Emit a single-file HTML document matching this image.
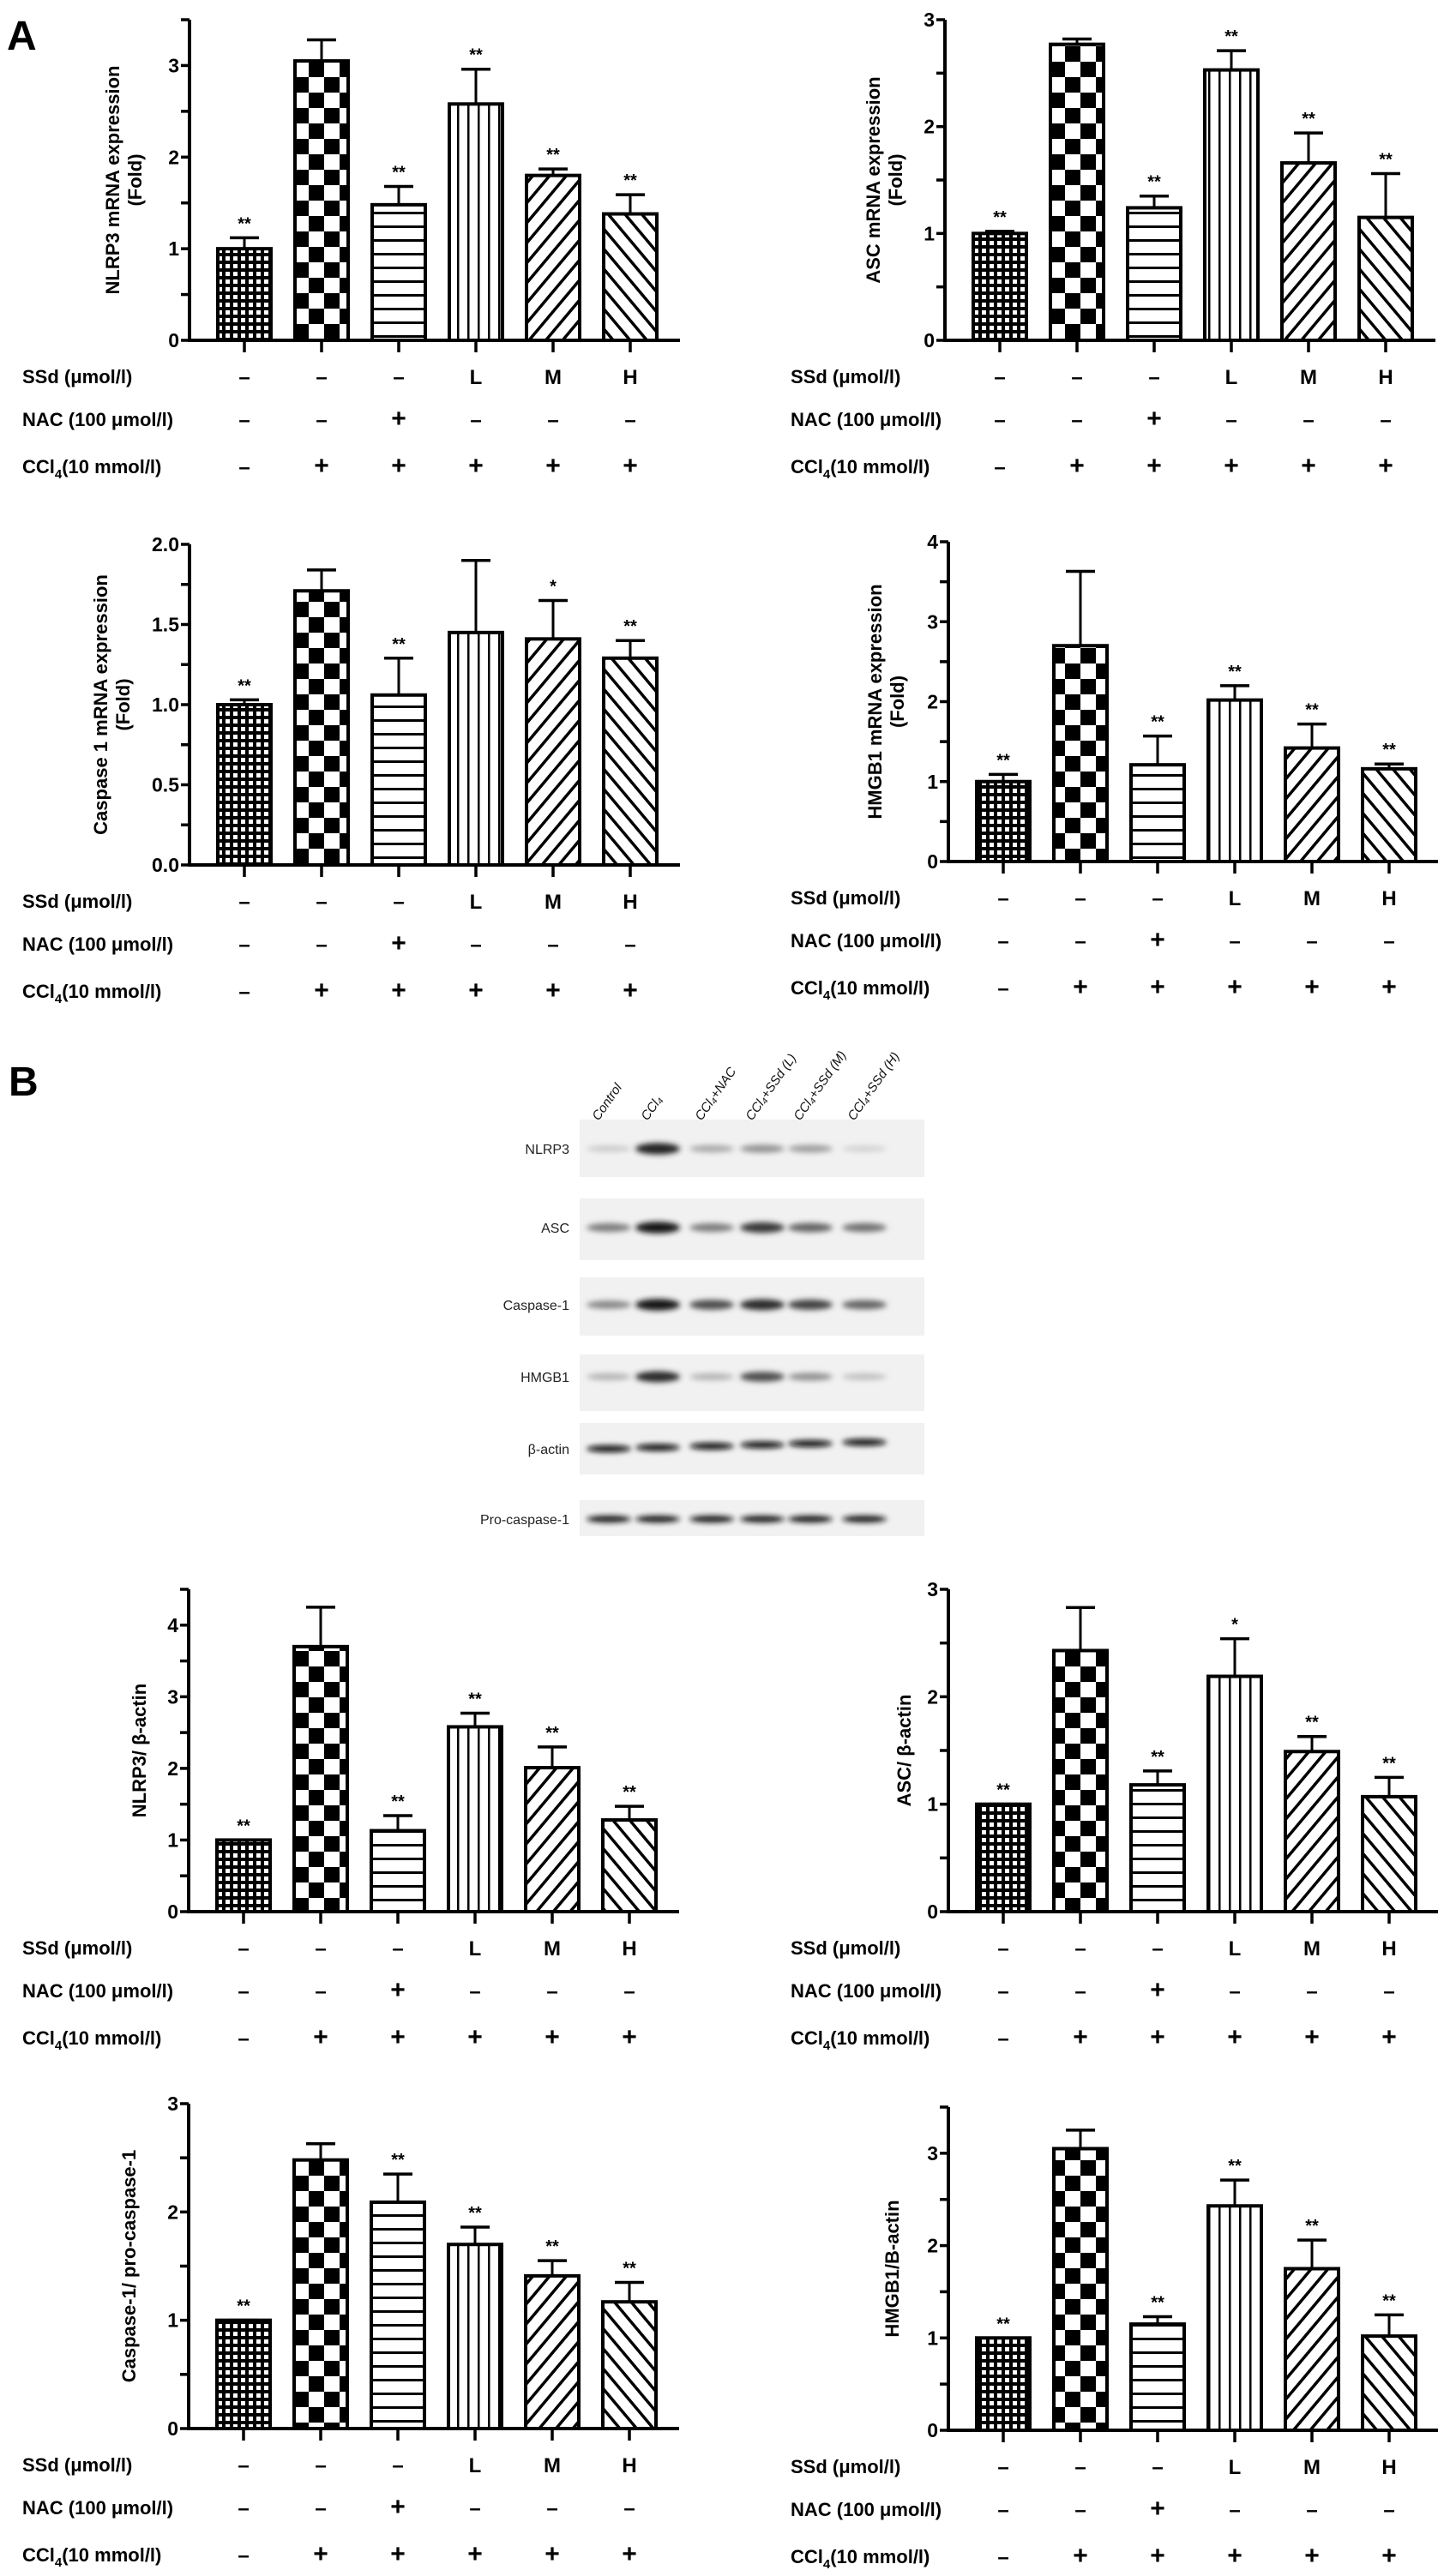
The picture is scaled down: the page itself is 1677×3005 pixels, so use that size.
<!DOCTYPE html>
<html><head><meta charset="utf-8">
<style>
html,body{margin:0;padding:0;background:#fff;}
svg{display:block;}
text{font-family:"Liberation Sans",Arial,sans-serif;}
</style></head>
<body>
<svg id="fig" width="1677" height="3005" viewBox="0 0 1677 3005" xmlns="http://www.w3.org/2000/svg">
<defs>
  <pattern id="pFine" patternUnits="userSpaceOnUse" width="9" height="9">
    <rect width="9" height="9" fill="#000"/><rect x="2" y="2" width="5" height="5" fill="#fff"/>
  </pattern>
  <pattern id="pChecker" patternUnits="userSpaceOnUse" width="36" height="36">
    <rect width="36" height="36" fill="#fff"/><rect width="18" height="18" fill="#000"/><rect x="18" y="18" width="18" height="18" fill="#000"/>
  </pattern>
  <pattern id="pHoriz" patternUnits="userSpaceOnUse" width="16" height="16">
    <rect width="16" height="16" fill="#fff"/><rect y="7" width="16" height="3" fill="#000"/>
  </pattern>
  <pattern id="pVert" patternUnits="userSpaceOnUse" width="12" height="12">
    <rect width="12" height="12" fill="#fff"/><rect x="5" width="2.5" height="12" fill="#000"/>
  </pattern>
  <pattern id="pDiagR" patternUnits="userSpaceOnUse" width="15" height="15" patternTransform="rotate(40)">
    <rect width="15" height="15" fill="#fff"/><rect x="6" width="3.5" height="15" fill="#000"/>
  </pattern>
  <pattern id="pDiagL" patternUnits="userSpaceOnUse" width="15" height="15" patternTransform="rotate(-40)">
    <rect width="15" height="15" fill="#fff"/><rect x="6" width="3.5" height="15" fill="#000"/>
  </pattern>
  <filter id="blur" x="-50%" y="-100%" width="200%" height="300%"><feGaussianBlur stdDeviation="3.2"/></filter>
</defs>
<text x="8" y="58" font-size="48" font-weight="bold">A</text>
<text x="10" y="1278" font-size="48" font-weight="bold">B</text>
<g id="charts"></g>
<g id="blot"></g>
</svg>
<script>
// ---- shared categorical data ----
const groups = ['Control','CCl4','CCl4+NAC','CCl4+SSd(L)','CCl4+SSd(M)','CCl4+SSd(H)'];
const ssdRow = ['\u2013','\u2013','\u2013','L','M','H'];
const nacRow = ['\u2013','\u2013','+','\u2013','\u2013','\u2013'];
const cclRow = ['\u2013','+','+','+','+','+'];

// ---- A: NLRP3 mRNA ----
const nlrp3MrnaMean = [1.0, 3.05, 1.48, 2.58, 1.80, 1.38];
const nlrp3MrnaErr  = [0.12, 0.23, 0.20, 0.38, 0.07, 0.21];
const nlrp3MrnaSig  = ['**','','**','**','**','**'];
const nlrp3MrnaTicks = ['0','1','2','3'];
// ---- A: ASC mRNA ----
const ascMrnaMean = [1.0, 2.77, 1.24, 2.53, 1.66, 1.15];
const ascMrnaErr  = [0.02, 0.05, 0.11, 0.18, 0.28, 0.41];
const ascMrnaSig  = ['**','','**','**','**','**'];
const ascMrnaTicks = ['0','1','2','3'];
// ---- A: Caspase 1 mRNA ----
const caspMrnaMean = [1.0, 1.71, 1.06, 1.45, 1.41, 1.29];
const caspMrnaErr  = [0.03, 0.13, 0.23, 0.45, 0.24, 0.11];
const caspMrnaSig  = ['**','','**','','*','**'];
const caspMrnaTicks = ['0.0','0.5','1.0','1.5','2.0'];
// ---- A: HMGB1 mRNA ----
const hmgbMrnaMean = [1.0, 2.70, 1.21, 2.02, 1.42, 1.16];
const hmgbMrnaErr  = [0.09, 0.93, 0.36, 0.18, 0.30, 0.06];
const hmgbMrnaSig  = ['**','','**','**','**','**'];
const hmgbMrnaTicks = ['0','1','2','3','4'];
// ---- B: NLRP3/beta-actin ----
const nlrp3ProtMean = [1.0, 3.70, 1.13, 2.58, 2.01, 1.28];
const nlrp3ProtErr  = [0.0, 0.55, 0.21, 0.19, 0.29, 0.19];
const nlrp3ProtSig  = ['**','','**','**','**','**'];
const nlrp3ProtTicks = ['0','1','2','3','4'];
// ---- B: ASC/beta-actin ----
const ascProtMean = [1.0, 2.43, 1.18, 2.19, 1.49, 1.07];
const ascProtErr  = [0.0, 0.40, 0.13, 0.35, 0.14, 0.18];
const ascProtSig  = ['**','','**','*','**','**'];
const ascProtTicks = ['0','1','2','3'];
// ---- B: Caspase-1/pro-caspase-1 ----
const caspProtMean = [1.0, 2.48, 2.09, 1.70, 1.41, 1.17];
const caspProtErr  = [0.0, 0.15, 0.26, 0.16, 0.14, 0.18];
const caspProtSig  = ['**','','**','**','**','**'];
const caspProtTicks = ['0','1','2','3'];
// ---- B: HMGB1/beta-actin ----
const hmgbProtMean = [1.0, 3.05, 1.15, 2.43, 1.75, 1.02];
const hmgbProtErr  = [0.0, 0.20, 0.08, 0.28, 0.31, 0.23];
const hmgbProtSig  = ['**','','**','**','**','**'];
const hmgbProtTicks = ['0','1','2','3'];

const NS='http://www.w3.org/2000/svg';
const fills=['url(#pFine)','url(#pChecker)','url(#pHoriz)','url(#pVert)','url(#pDiagR)','url(#pDiagL)'];
function mk(tag,attrs,parent){const e=document.createElementNS(NS,tag);for(const k in attrs)e.setAttribute(k,attrs[k]);if(parent)parent.appendChild(e);return e;}

function drawChart(cfg){
  const root=document.getElementById('charts');
  const g=mk('g',{},root);
  
  
  const yMax=cfg.yMax;
  const y=v=>cfg.zeroY-(v/yMax)*(cfg.zeroY-cfg.topY);
  const xc=i=>cfg.axisX+64+90*i;
  // y-axis
  const ya=mk('line',{x1:cfg.axisX,y1:cfg.topY,x2:cfg.axisX,y2:cfg.zeroY+2,stroke:'#000','stroke-width':4},g);
  
  
  const xa=mk('line',{x1:cfg.axisX-2,y1:cfg.zeroY,x2:cfg.axisX+572,y2:cfg.zeroY,stroke:'#000','stroke-width':4},g);
  
  
  // minor/major ticks
  for(let v=0; v<=yMax+1e-9; v+=cfg.minor){
    mk('line',{x1:cfg.axisX-10,y1:y(v),x2:cfg.axisX,y2:y(v),stroke:'#000','stroke-width':3.5},g);
  }
  cfg.ticks.forEach(t=>{
    const v=parseFloat(t);
    const tl=mk('text',{x:cfg.axisX-12,y:y(v)+8,'font-size':23,'font-weight':'bold','text-anchor':'end'},g);
    tl.textContent=t;
    
    
  });
  // y title
  const tx=cfg.axisX-cfg.titleOff, ty=(cfg.topY+cfg.zeroY)/2;
  const tt=mk('text',{x:tx,y:ty,'font-size':22,'font-weight':'bold','text-anchor':'middle',transform:`rotate(-90 ${tx} ${ty})`},g);
  
  
  cfg.title.forEach((line,k)=>{const ts=mk('tspan',{x:tx,dy:k===0?(cfg.title.length>1?-4:8):26},tt);ts.textContent=line;});
  // bars
  cfg.mean.forEach((m,i)=>{
    const cx=xc(i), top=y(m);
    const b=mk('rect',{x:cx-31,y:top,width:62,height:cfg.zeroY-top,fill:fills[i],stroke:'#000','stroke-width':4},g);
    
    
    const et=y(m+cfg.err[i]);
    if(cfg.err[i]>0){
      const el=mk('line',{x1:cx,y1:top,x2:cx,y2:et,stroke:'#000','stroke-width':3},g);
      
      
      mk('line',{x1:cx-17,y1:et,x2:cx+17,y2:et,stroke:'#000','stroke-width':3.5},g);
    } else {
      mk('line',{x1:cx-17,y1:top,x2:cx+17,y2:top,stroke:'#000','stroke-width':3.5},g);
    }
    if(cfg.sig[i]){
      const s=mk('text',{x:cx,y:et-10,'font-size':20,'font-weight':'bold','text-anchor':'middle'},g);
      s.textContent=cfg.sig[i];
      
      
    }
    mk('line',{x1:cx,y1:cfg.zeroY,x2:cx,y2:cfg.zeroY+14,stroke:'#000','stroke-width':3.5},g);
  });
  // treatment table
  const rows=[['SSd (\u03bcmol/l)',ssdRow,42],['NAC (100 \u03bcmol/l)',nacRow,92],['CCl',cclRow,147]];
  rows.forEach((r,ri)=>{
    const ly=cfg.zeroY+r[2];
    const lab=mk('text',{x:cfg.labelX,y:ly+8,'font-size':22,'font-weight':'bold'},g);
    
    
    if(ri===2){
      lab.appendChild(document.createTextNode('CCl'));
      const sub=mk('tspan',{'font-size':15,dy:6},lab);sub.textContent='4';
      const rest=mk('tspan',{dy:-6},lab);rest.textContent='(10 mmol/l)';
    } else lab.textContent=r[0];
    r[1].forEach((s,i)=>{
      const t=mk('text',{x:xc(i),y:ly+9,'font-size':s==='+'?30:24,'font-weight':'bold','text-anchor':'middle'},g);
      t.textContent=s;
      
      
    });
  });
}

drawChart({name:'chart-nlrp3-mrna',axisX:221,zeroY:397,topY:23,yMax:3.5,minor:0.5,ticks:nlrp3MrnaTicks,mean:nlrp3MrnaMean,err:nlrp3MrnaErr,sig:nlrp3MrnaSig,title:['NLRP3 mRNA expression','(Fold)'],titleOff:78,labelX:26});
drawChart({name:'chart-asc-mrna',axisX:1102,zeroY:397,topY:23,yMax:3,minor:0.5,ticks:ascMrnaTicks,mean:ascMrnaMean,err:ascMrnaErr,sig:ascMrnaSig,title:['ASC mRNA expression','(Fold)'],titleOff:72,labelX:922});
drawChart({name:'chart-caspase1-mrna',axisX:221,zeroY:1009,topY:635,yMax:2,minor:0.25,ticks:caspMrnaTicks,mean:caspMrnaMean,err:caspMrnaErr,sig:caspMrnaSig,title:['Caspase 1 mRNA expression','(Fold)'],titleOff:92,labelX:26});
drawChart({name:'chart-hmgb1-mrna',axisX:1106,zeroY:1005,topY:632,yMax:4,minor:0.5,ticks:hmgbMrnaTicks,mean:hmgbMrnaMean,err:hmgbMrnaErr,sig:hmgbMrnaSig,title:['HMGB1 mRNA expression','(Fold)'],titleOff:74,labelX:922});
drawChart({name:'chart-nlrp3-protein',axisX:220,zeroY:2230,topY:1854,yMax:4.5,minor:0.5,ticks:nlrp3ProtTicks,mean:nlrp3ProtMean,err:nlrp3ProtErr,sig:nlrp3ProtSig,title:['NLRP3/ \u03b2-actin'],titleOff:58,labelX:26});
drawChart({name:'chart-asc-protein',axisX:1106,zeroY:2230,topY:1854,yMax:3,minor:0.5,ticks:ascProtTicks,mean:ascProtMean,err:ascProtErr,sig:ascProtSig,title:['ASC/ \u03b2-actin'],titleOff:52,labelX:922});
drawChart({name:'chart-caspase1-protein',axisX:220,zeroY:2833,topY:2454,yMax:3,minor:0.5,ticks:caspProtTicks,mean:caspProtMean,err:caspProtErr,sig:caspProtSig,title:['Caspase-1/ pro-caspase-1'],titleOff:70,labelX:26});
drawChart({name:'chart-hmgb1-protein',axisX:1106,zeroY:2835,topY:2458,yMax:3.5,minor:0.5,ticks:hmgbProtTicks,mean:hmgbProtMean,err:hmgbProtErr,sig:hmgbProtSig,title:['HMGB1/B-actin'],titleOff:66,labelX:922});

// ---- Western blot ----
const laneLabels = ['Control','CCl\u2084','CCl\u2084+NAC','CCl\u2084+SSd (L)','CCl\u2084+SSd (M)','CCl\u2084+SSd (H)'];
const blotNames = ['NLRP3','ASC','Caspase-1','HMGB1','\u03b2-actin','Pro-caspase-1'];
const nlrp3Band = [0.15, 0.9, 0.3, 0.4, 0.35, 0.12];
const ascBand   = [0.5, 0.95, 0.5, 0.8, 0.6, 0.55];
const caspBand  = [0.45, 0.95, 0.7, 0.85, 0.75, 0.6];
const hmgbBand  = [0.25, 0.85, 0.25, 0.7, 0.4, 0.2];
const actinBand = [1, 1, 1, 1, 1, 1];
const proBand   = [0.95, 0.95, 0.95, 0.95, 0.95, 0.95];
(function(){
  const root=document.getElementById('blot');
  
  
  const laneX=[710,767,830,889,945,1008];
  const strips=[[1306,1373,1340],[1398,1470,1432],[1490,1558,1522],[1580,1646,1606],[1660,1720,1690],[1750,1792,1772]];
  const bands=[nlrp3Band,ascBand,caspBand,hmgbBand,actinBand,proBand];
  laneLabels.forEach((l,i)=>{
    const x=laneX[i]-12, yy=1308;
    const t=mk('text',{x:x,y:yy,'font-size':15,'font-style':'italic',fill:'#111',transform:`rotate(-55 ${x} ${yy})`},root);
    t.textContent=l;
    
    
  });
  strips.forEach((s,r)=>{
    mk('rect',{x:676,y:s[0],width:402,height:s[1]-s[0],fill:'#f1f1f1'},root);
    const lab=mk('text',{x:664,y:s[2]+6,'font-size':16,'text-anchor':'end',fill:'#222'},root);
    lab.textContent=blotNames[r];
    
    
    bands[r].forEach((v,i)=>{
      const gray=Math.round(235-v*225);
      const h=r>=4?8:(6+v*8);
      const e=mk('ellipse',{cx:laneX[i],cy:s[2]+(r===4?-(i*1.5):0),rx:26,ry:h/2,fill:`rgb(${gray},${gray},${gray})`,filter:'url(#blur)'},root);
      
      
    });
  });
})();
</script>
</body></html>
